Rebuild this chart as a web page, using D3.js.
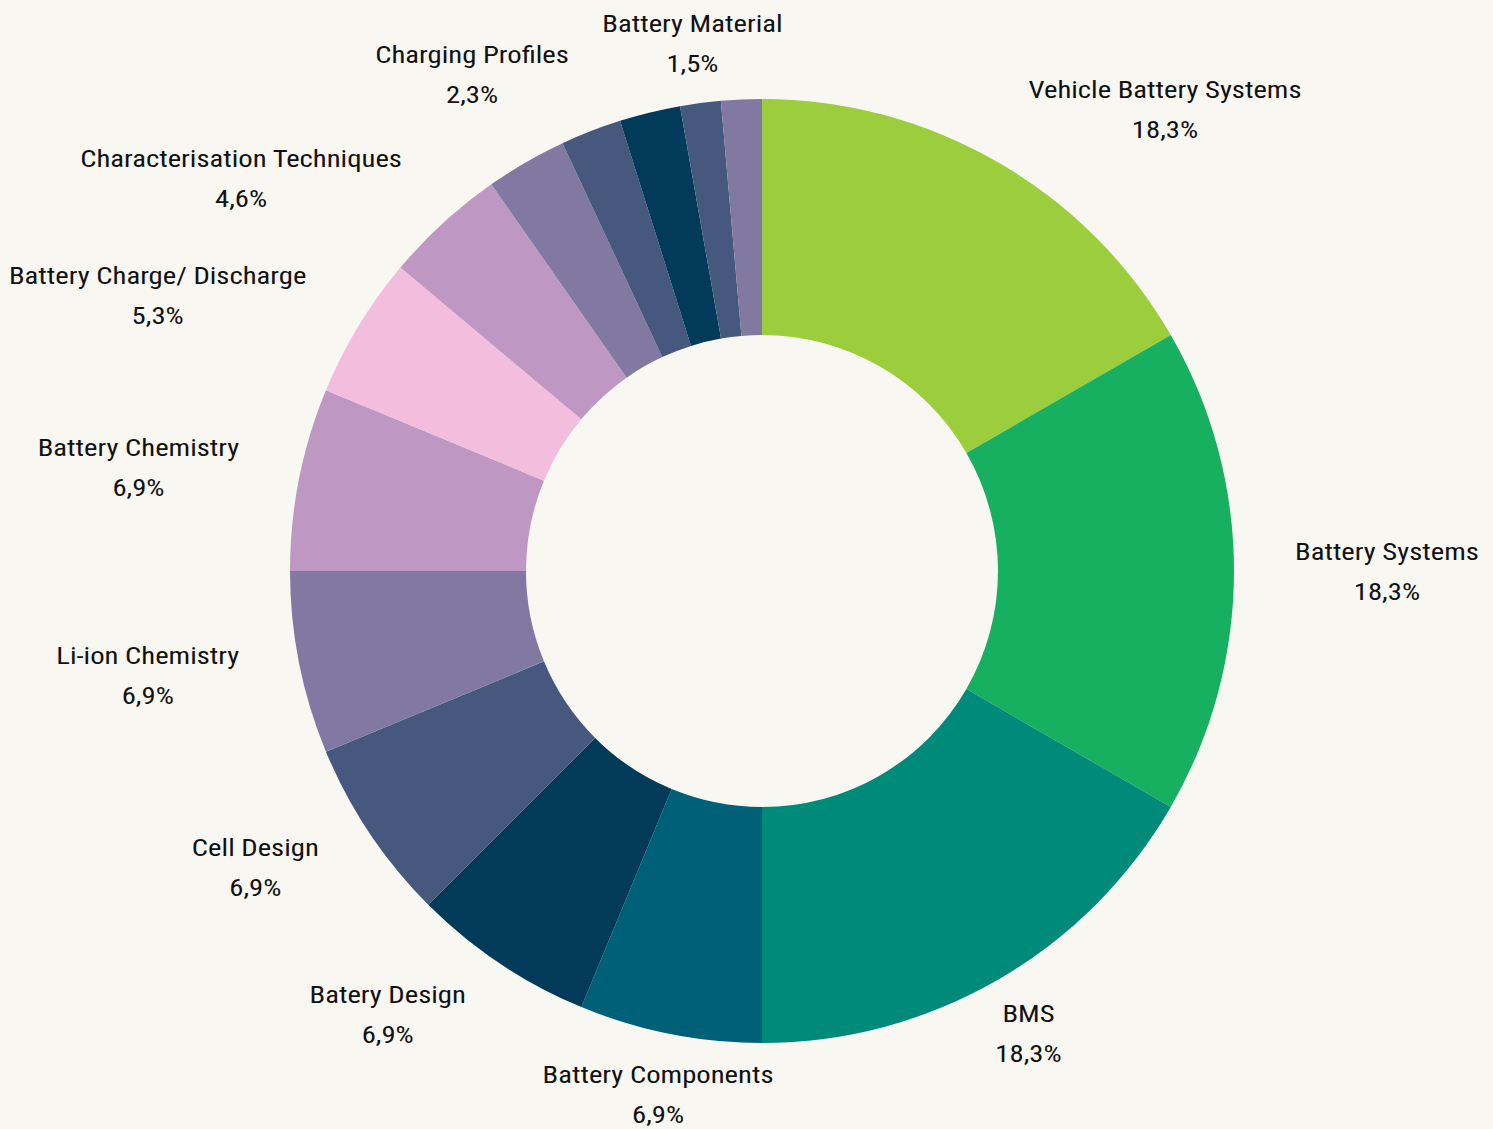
<!DOCTYPE html>
<html>
<head>
<meta charset="utf-8">
<script src="https://cdn.jsdelivr.net/npm/d3@7"></script>
<style>
  html, body { margin: 0; padding: 0; background: #f8f7f2; }
  svg { display: block; }
  text { font-family: 'Roboto Condensed', Roboto, sans-serif; font-size: 24px; fill: #111; }
</style>
</head>
<body>
<svg id="chart" width="1493" height="1129"></svg>
<script>
// topics, clockwise from twelve o'clock
const topics = ['Vehicle Battery Systems', 'Battery Systems', 'BMS', 'Battery Components', 'Batery Design',
  'Cell Design', 'Li-ion Chemistry', 'Battery Chemistry', 'Battery Charge/ Discharge', 'Characterisation Techniques',
  '', 'Charging Profiles', '', 'Battery Material', ''];
const counts = [24, 24, 24, 9, 9, 9, 9, 9, 7, 6, 4, 3, 3, 2, 2];
const pctLabels = ['18,3%', '18,3%', '18,3%', '6,9%', '6,9%', '6,9%', '6,9%', '6,9%', '5,3%', '4,6%',
  '', '2,3%', '', '1,5%', ''];
const colors = ['#9ccd3c', '#17b060', '#008a7a', '#006078', '#023a5a', '#46587e', '#8279a2', '#be98c3',
  '#f3bddd', '#be98c3', '#8279a2', '#46587e', '#023a5a', '#46587e', '#8279a2'];

const svg = d3.select('#chart');
const cx = 762, cy = 571;
const outerR = 472, innerR = 236, labelR = 533;
const stretch = 1.195; // labels are a touch wider than plain Roboto Condensed

const data = topics.map((t, i) => ({ topic: t, value: counts[i], pct: pctLabels[i], color: colors[i] }));

const pie = d3.pie().value(d => d.value).sort(null);
const arc = d3.arc().innerRadius(innerR).outerRadius(outerR);

const g = svg.append('g').attr('transform', 'translate(' + cx + ',' + cy + ')');
const arcs = pie(data);

g.selectAll('path').data(arcs).enter().append('path')
  .attr('d', arc)
  .attr('fill', d => d.data.color);

function widen(t) {
  const len = t.node().getComputedTextLength() * stretch;
  t.attr('textLength', len).attr('lengthAdjust', 'spacingAndGlyphs');
  return len;
}

const labels = g.append('g');
arcs.filter(d => d.data.topic).forEach(d => {
  const a = (d.startAngle + d.endAngle) / 2;
  const px = labelR * Math.sin(a);
  const py = -labelR * Math.cos(a);
  const deg = a * 180 / Math.PI;
  const lab = labels.append('g');
  const t1 = lab.append('text').attr('text-anchor', 'middle').attr('y', py - 11).text(d.data.topic);
  const t2 = lab.append('text').attr('text-anchor', 'middle').attr('y', py + 29).text(d.data.pct);
  const w = Math.max(widen(t1), widen(t2));
  let x = px;
  const nearVertical = (deg > 90 && deg < 270) ? Math.abs(deg - 180) <= 30.5 : (deg < 15 || deg > 345);
  if (!nearVertical) x = px > 0 ? px + w / 2 : px - w / 2;
  t1.attr('x', x);
  t2.attr('x', x);
});
</script>
</body>
</html>
